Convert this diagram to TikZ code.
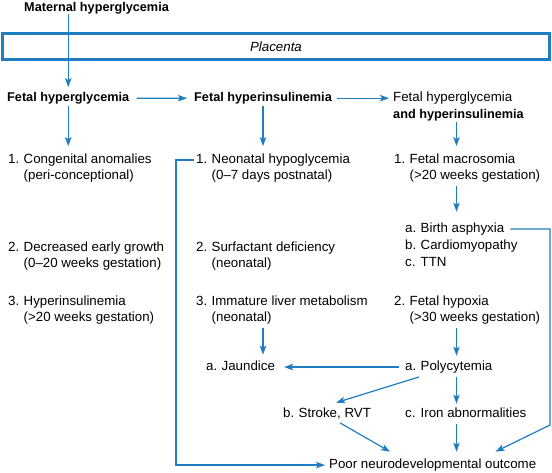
\documentclass[tikz,border=0pt]{standalone}
\usepackage{fontspec}
\setmainfont{Liberation Sans}
\usepackage{xcolor}
\usetikzlibrary{arrows.meta}
\definecolor{fetalblue}{RGB}{30,126,193}
\newcommand{\nm}[1]{\makebox[15.5pt][l]{#1}}
\newcommand{\twoline}[3]{\begin{tabular}[t]{@{}p{15.5pt}@{}l@{}}#1&#2\\&#3\end{tabular}}
\tikzset{
txtnodev1/.style={anchor=base west, inner sep=0pt, font=\fontsize{13.3}{16}\selectfont},
boldnodev1/.style={anchor=base west, inner sep=0pt, font=\fontsize{12.7}{16}\selectfont\bfseries},
placentabox/.style={rectangle, draw=fetalblue, line width=2.6pt, inner sep=0pt, minimum width=547.4pt, minimum height=26.4pt, font=\fontsize{13.3}{16}\selectfont\itshape},
bluearrow/.style={draw=fetalblue, line width=1.2pt, -{Stealth[length=9pt,width=6.5pt,inset=2pt]}},
}

\begin{document}
\begin{tikzpicture}[x=1pt,y=-1pt]
  \useasboundingbox (0,0) rectangle (552,472);
  \coordinate (c3) at (456.5,0);
  \coordinate (lp) at (176,0);
  \coordinate (rt) at (550,425);

  \node[boldnodev1] at (24,11.5) (mat) {Maternal hyperglycemia};
  \node[placentabox] at (276,46.5) (plac) {Placenta};
  \node[boldnodev1] at (7,101.5) (fhg) {Fetal hyperglycemia};
  \node[boldnodev1] at (194,101.5) (fhi) {Fetal hyperinsulinemia};
  \node[txtnodev1] at (393,101.5) (fhb) {Fetal hyperglycemia};
  \node[boldnodev1] at (393,118.5) (fhbb) {and hyperinsulinemia};

  \node[txtnodev1] at (8,163.5) (cong) {\twoline{1.}{Congenital anomalies}{(peri-conceptional)}};
  \node[txtnodev1] at (8,251) (grow) {\twoline{2.}{Decreased early growth}{(0--20 weeks gestation)}};
  \node[txtnodev1] at (8,305.5) (hins) {\twoline{3.}{Hyperinsulinemia}{(>20 weeks gestation)}};

  \node[txtnodev1] at (196,163.5) (hypo) {\twoline{1.}{Neonatal hypoglycemia}{(0--7 days postnatal)}};
  \node[txtnodev1] at (196,251) (surf) {\twoline{2.}{Surfactant deficiency}{(neonatal)}};
  \node[txtnodev1] at (196,305.5) (liv) {\twoline{3.}{Immature liver metabolism}{(neonatal)}};

  \node[txtnodev1] at (394,163.5) (mac) {\twoline{1.}{Fetal macrosomia}{(>20 weeks gestation)}};
  \node[txtnodev1] at (405,232.5) (asph) {\nm{a.}Birth asphyxia};
  \node[txtnodev1] at (405,249) (card) {\nm{b.}Cardiomyopathy};
  \node[txtnodev1] at (405,266) (ttn) {\nm{c.}TTN};
  \node[txtnodev1] at (394,305.5) (hyp) {\twoline{2.}{Fetal hypoxia}{(>30 weeks gestation)}};

  \node[txtnodev1] at (206,370.5) (jaun) {\nm{a.}Jaundice};
  \node[txtnodev1] at (405,370.5) (poly) {\nm{a.}Polycytemia};
  \node[txtnodev1] at (283,417.5) (strk) {\nm{b.}Stroke, RVT};
  \node[txtnodev1] at (405,417.5) (iron) {\nm{c.}Iron abnormalities};
  \node[txtnodev1] at (329,468.5) (poor) {Poor neurodevelopmental outcome};

  \draw[bluearrow, shorten >=5pt] (mat.south -| fhg) -- (fhg.north);
  \draw[bluearrow, shorten <=7pt, shorten >=7pt] (fhg.east) -- (fhi.west);
  \draw[bluearrow, shorten <=5pt, shorten >=4pt] (fhi.east) -- (fhi.east -| fhb.west);

  \draw[bluearrow, shorten <=2pt, shorten >=6pt] (fhg.south) -- (fhg.south |- cong.north);
  \draw[bluearrow, shorten <=2pt, shorten >=6pt] (fhi.south) -- (fhi.south |- hypo.north);
  \draw[bluearrow, shorten <=1pt, shorten >=6pt] (fhbb.south -| c3) -- (mac.north -| c3);
  \draw[bluearrow, shorten <=1pt, shorten >=11pt] (mac.south -| c3) -- (asph.north -| c3);
  \draw[bluearrow] ([xshift=6pt]asph.east) -| (rt) -- ([shift={(-41pt,7pt)}]poor.north east);

  \draw[bluearrow, shorten <=1pt, shorten >=5pt] (hyp.south -| c3) -- (poly.north -| c3);
  \draw[bluearrow, shorten <=1pt, shorten >=6pt] (liv.south -| fhi) -- (jaun.north -| fhi);
  \draw[bluearrow, shorten <=6pt, shorten >=9pt] (poly.west) -- (poly.west -| jaun.east);
  \draw[bluearrow] ([shift={(14pt,-3.5pt)}]poly.south west) -- ([shift={(9pt,5pt)}]strk.north);
  \draw[bluearrow, shorten <=3.5pt, shorten >=4pt] (poly.south -| c3) -- (iron.north -| c3);
  \draw[bluearrow] ([shift={(13pt,-3.5pt)}]strk.south) -- ([shift={(61pt,7pt)}]poor.north west);
  \draw[bluearrow, shorten <=6.5pt, shorten >=7pt] (iron.south -| c3) -- (poor.north -| c3);

  \coordinate (hs) at ([shift={(-2pt,3.5pt)}]hypo.base west);
  \draw[bluearrow, shorten >=4pt] (hs) -- (hs -| lp) |- (poor.west);
\end{tikzpicture}
\end{document}
